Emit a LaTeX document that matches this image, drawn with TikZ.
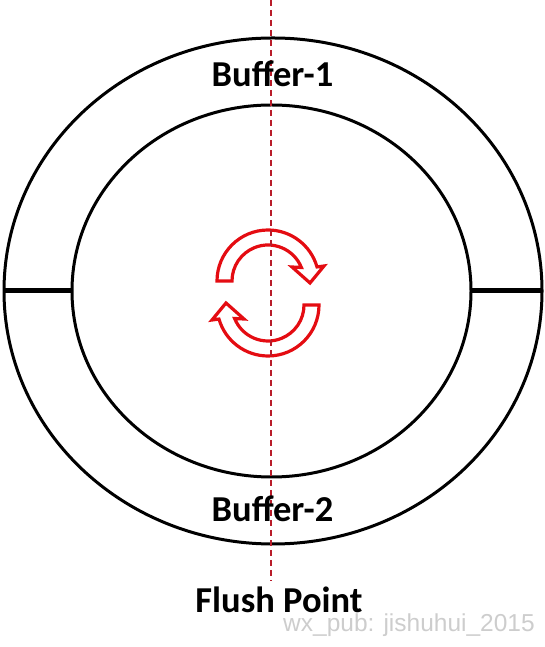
\documentclass[tikz,border=0pt]{standalone}
\usepackage{fontspec}
\setmainfont{Carlito}
\newfontfamily\markfont{Liberation Sans}
\usepackage{tikz}
\usetikzlibrary{calc,positioning,shapes.geometric}
\definecolor{arrowred}{RGB}{228,12,18}
\definecolor{axisred}{RGB}{185,28,42}
\definecolor{markgray}{RGB}{205,205,205}

\begin{document}
\begin{tikzpicture}[x=1pt,y=1pt, ring/.style={ellipse,draw,line width=3pt,inner sep=0pt,outer sep=0pt},
    bufname/.style={anchor=base,font=\bfseries\fontsize{36.5}{36}\selectfont},
    turn/.style={draw=arrowred,line width=3.2pt,line join=miter}]
              \useasboundingbox (0,0) rectangle (545,647);

              \node[ring,minimum width=538,minimum height=506] (outer) at (273,356) {};
              \node[ring,minimum width=399,minimum height=372] (inner) at (271.5,356) {};

              \draw[line width=5pt] (outer.west) -- (inner.west);
              \draw[line width=5pt] (inner.east) -- (outer.east);

              \draw[turn] (217,366) arc[start angle=180,end angle=16,radius=51] -- (324,381) -- (310,364)
                   -- (292,380) -- ($(268,366)+(22:36)$) arc[start angle=22,end angle=180,radius=36] -- cycle;
              \draw[turn,rotate around={180:(268,354)}] (217,366) arc[start angle=180,end angle=16,radius=51] -- (324,381) -- (310,364)
                   -- (292,380) -- ($(268,366)+(22:36)$) arc[start angle=22,end angle=180,radius=36] -- cycle;

              \coordinate (axtop) at (271,647);
              \coordinate (axbot) at (271,66);
              \draw[axisred,line width=1.6pt,dash pattern=on 6pt off 4pt] (axtop) -- (axbot);

              \node[bufname] (buf1) at (272.5,560) {Buffer-1};
              \node[bufname] (buf2) at (272.5,125) {Buffer-2};
              \node[bufname] (flush) at (279,34) {Flush Point};
              \node[anchor=base,text=markgray,font=\markfont\fontsize{24.5}{24}\selectfont] (mark) at (409,15) {wx\_pub: jishuhui\_2015};
            \end{tikzpicture}
\end{document}
